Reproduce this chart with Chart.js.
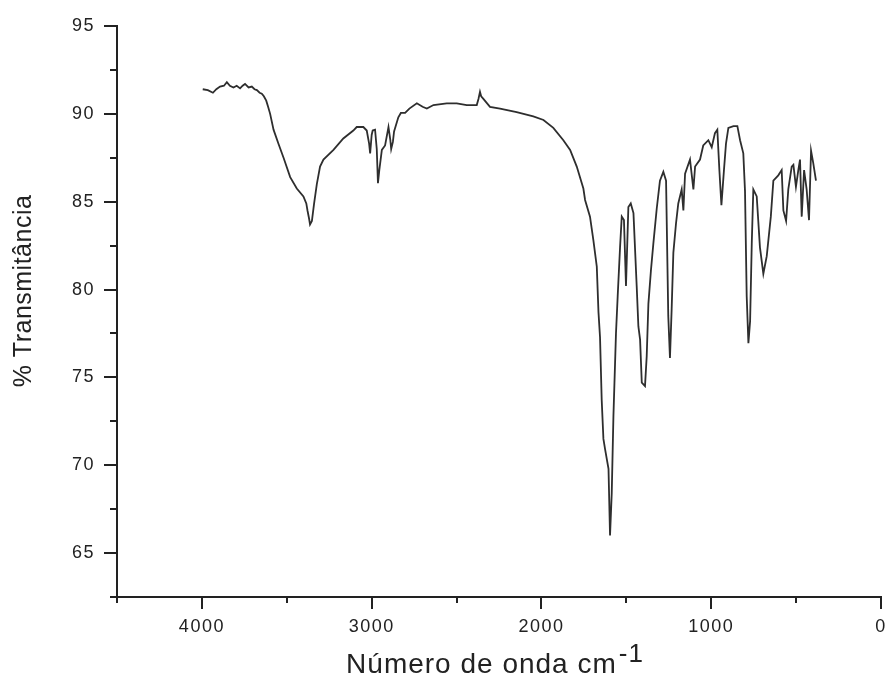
<!DOCTYPE html>
<html>
<head>
<meta charset="utf-8">
<script src="https://cdn.jsdelivr.net/npm/chart.js@4.4.0/dist/chart.umd.min.js"></script>
<style>
  html, body { margin: 0; padding: 0; background: #fff; }
  #wrap { width: 888px; height: 679px; }
</style>
</head>
<body>
<div id="wrap"><canvas id="irChart" width="888" height="679"></canvas></div>
<script>
// IR spectrum (wavenumber cm-1, % transmittance)
const wavenumbers = [
    3995, 3965, 3935, 3915, 3893, 3870, 3853, 3835, 3814, 3795, 3775, 3760, 3746, 3725, 3706, 3690,
    3676, 3660, 3647, 3635, 3621, 3610, 3598, 3578, 3549, 3519, 3480, 3441, 3402, 3385, 3378, 3368,
    3363, 3352, 3339, 3323, 3304, 3284, 3225, 3167, 3108, 3088, 3049, 3029, 3015, 3009, 3000, 2994,
    2980, 2970, 2963, 2955, 2940, 2921, 2901, 2890, 2885, 2875, 2868, 2843, 2828, 2803, 2778, 2734,
    2700, 2675, 2636, 2558, 2499, 2440, 2381, 2371, 2362, 2355, 2342, 2303, 2244, 2146, 2048, 1988,
    1930, 1871, 1831, 1792, 1753, 1743, 1714, 1694, 1674, 1664, 1655, 1645, 1635, 1625, 1605, 1596,
    1586, 1576, 1561, 1551, 1537, 1527, 1514, 1502, 1488, 1474, 1458, 1439, 1429, 1419, 1409, 1390,
    1380, 1370, 1355, 1341, 1321, 1302, 1282, 1266, 1253, 1243, 1233, 1223, 1207, 1194, 1174, 1164,
    1154, 1125, 1105, 1095, 1066, 1047, 1017, 997, 978, 964, 952, 940, 925, 913, 899, 869,
    846, 830, 811, 801, 791, 781, 771, 761, 752, 732, 713, 693, 673, 649, 634, 605,
    585, 575, 559, 546, 526, 516, 501, 487, 477, 467, 453, 438, 424, 412, 399, 383
];
const transmittance = [
    91.4, 91.35, 91.2, 91.4, 91.55, 91.6, 91.8, 91.6, 91.5, 91.6, 91.45, 91.6, 91.7, 91.5, 91.55, 91.4,
    91.35, 91.2, 91.15, 91.0, 90.75, 90.4, 90.0, 89.1, 88.3, 87.5, 86.4, 85.75, 85.3, 84.9, 84.5, 84.0,
    83.7, 83.9, 84.9, 86.0, 87.0, 87.4, 87.95, 88.6, 89.05, 89.25, 89.25, 89.05, 88.3, 87.75, 88.8, 89.05,
    89.1, 88.0, 86.05, 86.8, 87.95, 88.2, 89.25, 88.5, 88.0, 88.4, 89.0, 89.8, 90.05, 90.05, 90.3, 90.6,
    90.4, 90.3, 90.5, 90.6, 90.6, 90.5, 90.5, 90.85, 91.25, 91.0, 90.85, 90.4, 90.3, 90.1, 89.85, 89.65,
    89.2, 88.5, 87.95, 87.0, 85.75, 85.1, 84.15, 82.8, 81.3, 78.7, 77.3, 73.7, 71.5, 70.9, 69.8, 66.0,
    68.4, 72.8, 77.5, 79.6, 82.4, 84.15, 83.95, 80.2, 84.7, 84.9, 84.35, 80.2, 77.9, 77.15, 74.7, 74.5,
    76.2, 79.2, 81.1, 82.6, 84.6, 86.2, 86.7, 86.2, 78.5, 76.1, 78.9, 82.1, 83.8, 84.9, 85.7, 84.5,
    86.6, 87.4, 85.7, 87.0, 87.4, 88.2, 88.5, 88.1, 88.9, 89.1, 86.8, 84.8, 86.8, 88.3, 89.2, 89.3,
    89.3, 88.5, 87.75, 85.6, 79.6, 76.95, 78.2, 82.7, 85.7, 85.3, 82.4, 80.9, 81.9, 84.15, 86.2, 86.5,
    86.8, 84.5, 83.9, 85.7, 87.0, 87.1, 85.85, 86.8, 87.4, 84.15, 86.8, 85.7, 83.95, 87.9, 87.2, 86.2
];

const xTicks = [0, 1000, 2000, 3000, 4000];
const xMinorTicks = [500, 1500, 2500, 3500, 4500];
const yTicks = [65, 70, 75, 80, 85, 90, 95];
const yMinorTicks = [62.5, 67.5, 72.5, 77.5, 82.5, 87.5, 92.5];

const xTitle = 'Número de onda cm';
const xTitleSup = '-1';
const yTitle = '% Transmitância';

const ink = '#222';
const fontFamily = '"Liberation Sans", Arial, sans-serif';

// wider glyph spacing, like the original bitmap font
const spacing = {
    id: 'spacing',
    beforeDraw(chart) { chart.ctx.letterSpacing = '1.5px'; }
};

// tick marks (major + minor, outside) and the two axis titles
const axisDecor = {
    id: 'axisDecor',
    afterDraw(chart) {
        const { ctx, chartArea, scales: { x, y } } = chart;
        ctx.save();
        ctx.strokeStyle = ink;
        ctx.lineWidth = 2;
        ctx.beginPath();
        xTicks.forEach(v => { const p = Math.round(x.getPixelForValue(v)); ctx.moveTo(p, x.top); ctx.lineTo(p, x.top + 12); });
        xMinorTicks.forEach(v => { const p = Math.round(x.getPixelForValue(v)); ctx.moveTo(p, x.top); ctx.lineTo(p, x.top + 6); });
        yTicks.forEach(v => { const p = Math.round(y.getPixelForValue(v)); ctx.moveTo(y.right, p); ctx.lineTo(y.right - 13, p); });
        yMinorTicks.forEach(v => { const p = Math.round(y.getPixelForValue(v)); ctx.moveTo(y.right, p); ctx.lineTo(y.right - 7, p); });
        ctx.stroke();

        ctx.fillStyle = ink;
        ctx.letterSpacing = '1px';
        ctx.textBaseline = 'alphabetic';
        ctx.textAlign = 'left';
        ctx.font = '28px ' + fontFamily;
        const wMain = ctx.measureText(xTitle).width;
        ctx.font = '26px ' + fontFamily;
        const wSup = ctx.measureText(xTitleSup).width;
        const cx = (chartArea.left + chartArea.right) / 2 - 4;
        const x0 = cx - (wMain + 2 + wSup) / 2;
        ctx.font = '28px ' + fontFamily;
        ctx.fillText(xTitle, x0, 673);
        ctx.font = '26px ' + fontFamily;
        ctx.fillText(xTitleSup, x0 + wMain + 2, 662);

        ctx.translate(24, 291);
        ctx.rotate(-Math.PI / 2);
        ctx.textAlign = 'center';
        ctx.textBaseline = 'middle';
        ctx.letterSpacing = '0.5px';
        ctx.font = '25px ' + fontFamily;
        ctx.fillText(yTitle, 0, 0);
        ctx.restore();
    }
};

new Chart(document.getElementById('irChart'), {
    type: 'line',
    data: {
        datasets: [{
            data: wavenumbers.map((w, i) => ({ x: w, y: transmittance[i] })),
            borderColor: '#2e2e2e',
            borderWidth: 1.8,
            pointRadius: 0,
            tension: 0,
            fill: false,
        }]
    },
    options: {
        responsive: false,
        animation: false,
        layout: { padding: { top: 26, right: 7, left: 0, bottom: 0 } },
        plugins: { legend: { display: false }, tooltip: { enabled: false } },
        scales: {
            x: {
                type: 'linear', reverse: true, min: 0, max: 4500,
                afterBuildTicks: s => { s.ticks = xTicks.map(v => ({ value: v })); },
                afterFit: s => { s.height = 82; s.paddingLeft = 0; s.paddingRight = 0; s.paddingTop = 0; s.paddingBottom = 0; },
                grid: { display: false, drawTicks: false, tickLength: 0 },
                border: { display: true, color: ink, width: 2 },
                ticks: { color: ink, padding: 19, maxRotation: 0, font: { family: fontFamily, size: 18 }, callback: v => String(v) }
            },
            y: {
                min: 62.5, max: 95,
                afterBuildTicks: s => { s.ticks = yTicks.map(v => ({ value: v })); },
                afterFit: s => { s.width = 117; s.paddingLeft = 0; s.paddingRight = 0; s.paddingTop = 0; s.paddingBottom = 0; },
                grid: { display: false, drawTicks: false, tickLength: 0 },
                border: { display: true, color: ink, width: 2 },
                ticks: { color: ink, padding: 22, font: { family: fontFamily, size: 18 } }
            }
        }
    },
    plugins: [spacing, axisDecor]
});
</script>
</body>
</html>
